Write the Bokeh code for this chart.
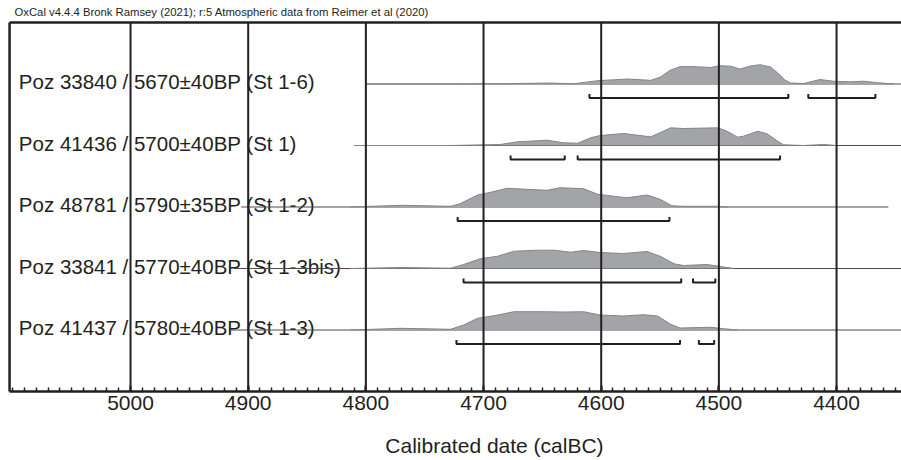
from bokeh.plotting import figure
from bokeh.models import Range1d, FixedTicker, Label, ColumnDataSource
from bokeh.core.properties import value
from bokeh.embed import file_html
from bokeh.resources import INLINE

# ---------------- data ----------------
header = "OxCal v4.4.4 Bronk Ramsey (2021); r:5 Atmospheric data from Reimer et al (2020)"
x_title = "Calibrated date (calBC)"

labels = [
    "Poz 33840 / 5670\u00b140BP (St 1-6)",
    "Poz 41436 / 5700\u00b140BP (St 1)",
    "Poz 48781 / 5790\u00b135BP (St 1-2)",
    "Poz 33841 / 5770\u00b140BP (St 1-3bis)",
    "Poz 41437 / 5780\u00b140BP (St 1-3)",
]

# calibrated probability distributions (calBC, relative probability)
years_1 = [4800, 4728, 4680, 4646, 4623, 4603, 4578, 4558, 4550, 4541, 4533, 4524, 4507, 4499,
           4490, 4482, 4473, 4465, 4456, 4449, 4444, 4439, 4428, 4414, 4402, 4388, 4377, 4365, 4351]
prob_1 = [0, 0, 0.3, 1, 0.3, 3.3, 5, 3.7, 6.7, 14, 17.3, 17.5, 16.5, 18.3,
          17.8, 15, 18, 19.3, 17, 10, 4, 1, 0.5, 4.5, 2.7, 2.2, 2.8, 1.3, 0]

years_2 = [4810, 4728, 4686, 4671, 4646, 4632, 4620, 4609, 4601, 4581, 4558, 4550, 4541,
           4530, 4501, 4493, 4484, 4479, 4467, 4459, 4450, 4445, 4428, 4411, 4400]
prob_2 = [0, 0, 1, 3.7, 5.3, 2.7, 2.3, 7.7, 10, 12, 8.7, 12.7, 17.7,
          17, 17.7, 14.3, 8.3, 9.3, 14.3, 11.7, 4.3, 0.7, 0, 1, 0]

years_3 = [4813, 4770, 4728, 4720, 4705, 4694, 4680, 4663, 4646, 4635, 4615, 4603, 4589,
           4578, 4561, 4550, 4540, 4530, 4501, 4493]
prob_3 = [0, 1.7, 0.7, 3.3, 12, 14.7, 18.7, 17.7, 16.7, 19.3, 18.3, 12.7, 10.7,
          9.3, 12, 7.7, 1.3, 0.7, 0.7, 0]

years_4 = [4813, 4770, 4728, 4717, 4703, 4688, 4674, 4654, 4640, 4626, 4615, 4601, 4581,
           4561, 4550, 4538, 4530, 4510, 4499, 4487]
prob_4 = [0, 1, 0.3, 4, 9.7, 12.3, 17.3, 18.3, 18.3, 16.3, 18, 16, 15,
          17, 12.3, 4.7, 3, 4, 2, 0]

years_5 = [4813, 4770, 4728, 4717, 4705, 4691, 4674, 4649, 4632, 4615, 4601, 4581, 4564,
           4552, 4541, 4533, 4507, 4496, 4484]
prob_5 = [0, 1.7, 0.7, 5, 11.7, 14.3, 18.3, 18.3, 18, 18.3, 15, 14, 15.3,
          14, 5.7, 2, 2.7, 1.3, 0]

dist_years = [years_1, years_2, years_3, years_4, years_5]
dist_prob = [prob_1, prob_2, prob_3, prob_4, prob_5]

# 95.4% ranges (calBC)
range_from = [[4610, 4424], [4677, 4620], [4722], [4717, 4522], [4723, 4517]]
range_to = [[4441, 4367], [4631, 4448], [4542], [4532, 4503], [4533, 4504]]

# extent of each row's base line (calBC)
line_start = [4800, 4810, 4906, 4912, 4915]
line_end = [4330, 4330, 4356, 4330, 4330]

major_ticks = list(range(4400, 5001, 100))
minor_ticks = list(range(4350, 5101, 10))

# ---------------- style / layout ----------------
INK = "#231f20"
FILL = "#a3a4a8"
OUTLINE = "#858585"
BASE = "#4a4a4a"
FONT = "Liberation Sans"
SCALE = 1 / 61.5          # relative probability -> row units
BR_DROP = 14 / 61.5       # bracket below base line
BR_TICK = 4 / 61.5        # bracket end ticks

X_LEFT, X_RIGHT = 5110.5, 4344.8     # visible date span (whole canvas)
BOX_LEFT = 5102.8                    # left edge of the plot box
Y_BOTTOM, Y_TOP = -1.122, 6.358      # whole canvas in row units
BOX_TOP = 6

n = len(labels)
row_y = [n - i for i in range(n)]   # 5 .. 1 from top

p = figure(width=901, height=460, output_backend="svg", toolbar_location=None,
           x_range=Range1d(X_LEFT, X_RIGHT), y_range=Range1d(Y_BOTTOM, Y_TOP),
           y_axis_location=None, min_border_left=0, min_border_right=0,
           min_border_top=0, min_border_bottom=0)
p.outline_line_color = None
p.background_fill_color = "white"
p.border_fill_color = "white"
p.xgrid.visible = False
p.ygrid.visible = False

ticker = FixedTicker(ticks=major_ticks, minor_ticks=minor_ticks)
ax = p.xaxis[0]
ax.ticker = ticker
ax.fixed_location = 0
ax.bounds = (X_RIGHT, BOX_LEFT)
ax.axis_line_color = INK
ax.axis_line_width = 2.5
ax.major_tick_in = 6
ax.major_tick_out = 0
ax.major_tick_line_color = INK
ax.major_tick_line_width = 2
ax.minor_tick_in = 4
ax.minor_tick_out = 0
ax.minor_tick_line_color = INK
ax.minor_tick_line_width = 1.5
ax.major_label_text_font = FONT
ax.major_label_text_font_size = "21px"
ax.major_label_text_color = INK
ax.major_label_standoff = 4

# row labels
src = ColumnDataSource(dict(x=[5094.9] * n, y=row_y, t=labels))
p.text(x="x", y="y", text="t", source=src, text_font=value(FONT), text_font_size="20.5px",
       text_color=INK, text_baseline="middle", text_align="left", y_offset=-2.5)

# base lines
p.segment(x0=line_start, x1=line_end, y0=row_y, y1=row_y, line_color=BASE, line_width=1)

# distributions
for i in range(n):
    top = [row_y[i] + v * SCALE for v in dist_prob[i]]
    p.varea(x=dist_years[i], y1=row_y[i], y2=top, fill_color=FILL)
    p.line(dist_years[i], top, line_color=OUTLINE, line_width=1)

# 95.4% range brackets
bx, by = [], []
for i in range(n):
    yb = row_y[i] - BR_DROP
    for a, b in zip(range_from[i], range_to[i]):
        bx.append([a, a, b, b])
        by.append([yb + BR_TICK, yb, yb, yb + BR_TICK])
p.multi_line(bx, by, line_color=INK, line_width=2)

# century grid lines at the axis ticks
p.segment(x0=major_ticks, x1=major_ticks, y0=0, y1=BOX_TOP, line_color=INK, line_width=2)

# plot box: top and left edges
p.segment(x0=[BOX_LEFT, BOX_LEFT], x1=[X_RIGHT, BOX_LEFT], y0=[BOX_TOP, 0], y1=[BOX_TOP, BOX_TOP],
          line_color=INK, line_width=2.5)

# header and axis title
p.add_layout(Label(x=5098.6, y=6.179, text=header, text_font=FONT, text_font_size="11.3px",
                   text_color=INK, text_baseline="middle", text_align="left"))
p.add_layout(Label(x=4690.7, y=-0.878, text=x_title, text_font=FONT, text_font_size="21px",
                   text_color=INK, text_baseline="middle", text_align="center"))

open("out.html", "w").write(file_html(p, INLINE))
